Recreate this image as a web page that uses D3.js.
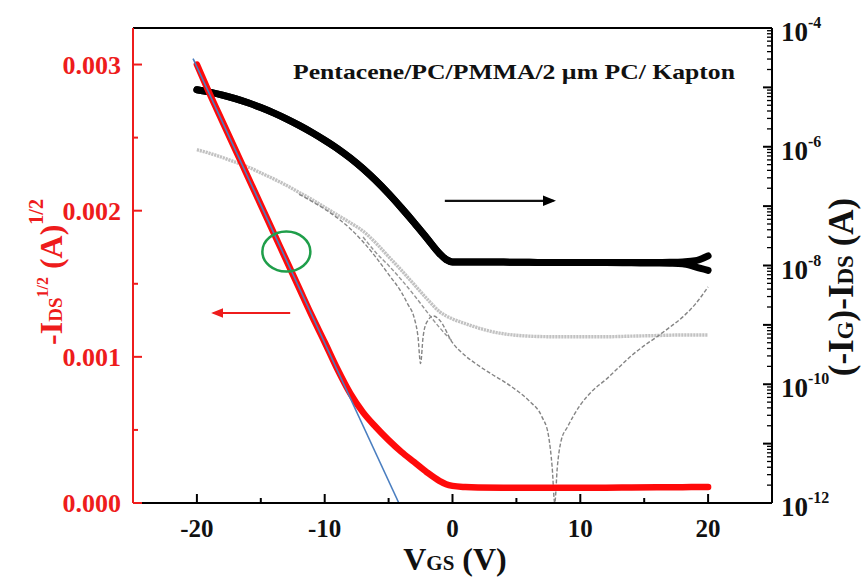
<!DOCTYPE html>
<html><head><meta charset="utf-8">
<script src="https://cdn.jsdelivr.net/npm/d3@7"></script>
<style>body{margin:0;background:#fff}svg{display:block}text{font-family:"Liberation Serif","Times New Roman",serif;font-weight:bold}</style>
</head><body><svg id="c" width="865" height="579"></svg>
<script>
// ---- data ----
const xTicksMajor = [-20, -10, 0, 10, 20];
const xTicksMinor = [-15, -5, 5, 15];
const leftTicks = [0, 0.001, 0.002, 0.003];
const leftTickLabels = ["0.000", "0.001", "0.002", "0.003"];
const leftMinor = [0.0005, 0.0015, 0.0025];
const rightTickExps = [-4, -6, -8, -10, -12];

// sqrt(-I_DS) (A^1/2) vs V_GS
const redV = [-20,-19,-18,-17,-16,-15,-14,-13,-12,-11,-10,-9,-8,-7,-6,-5,-4,-3,-2,-1,-0.5,0,1,2,4,6,8,10,12,14,16,18,19,20];
const redI = [0.00300,0.00280,0.00261,0.00242,0.00223,0.00204,0.00185,0.00166,0.00147,0.00128,0.00110,0.000915,0.00075,0.00062,0.00052,0.00043,0.00035,0.00028,0.00021,0.00015,0.000128,0.000117,0.000109,0.000106,0.000105,0.000105,0.000105,0.000105,0.000105,0.000106,0.000107,0.000108,0.000109,0.00011];

// linear fit line
const fitV = [-20.3, -4.2];
const fitI = [0.00304, 0];

// -I_DS (log) : two sweeps
const blackV = [-20,-19,-18,-17,-16,-15,-14,-13,-12,-11,-10,-9,-8,-7,-6,-5,-4,-3,-2,-1,-0.5,0,2,4,6,8,10,12,14,16,17,18,19,20];
const blackUp = [9.12e-6,8.32e-6,7.41e-6,6.46e-6,5.50e-6,4.57e-6,3.72e-6,2.95e-6,2.29e-6,1.74e-6,1.29e-6,9.33e-7,6.46e-7,4.27e-7,2.69e-7,1.62e-7,9.33e-8,5.25e-8,2.88e-8,1.58e-8,1.26e-8,1.15e-8,1.15e-8,1.14e-8,1.13e-8,1.12e-8,1.12e-8,1.12e-8,1.12e-8,1.12e-8,1.13e-8,1.15e-8,1.20e-8,1.45e-8];
const blackDn = [9.12e-6,8.32e-6,7.41e-6,6.46e-6,5.50e-6,4.57e-6,3.72e-6,2.95e-6,2.29e-6,1.74e-6,1.29e-6,9.33e-7,6.46e-7,4.27e-7,2.69e-7,1.62e-7,9.33e-8,5.25e-8,2.88e-8,1.58e-8,1.26e-8,1.15e-8,1.15e-8,1.14e-8,1.13e-8,1.12e-8,1.12e-8,1.12e-8,1.11e-8,1.10e-8,1.09e-8,1.07e-8,9.5e-9,8.3e-9];

// dotted grey curve
const grayV = [-20,-19,-18,-17,-16,-15,-14,-13,-12,-11,-10,-9,-8,-7,-6,-5,-4,-3,-2,-1,0,1,2,3,4,6,8,10,12,14,16,18,20];
const grayI = [8.91e-7,7.76e-7,6.61e-7,5.50e-7,4.57e-7,3.63e-7,2.88e-7,2.24e-7,1.70e-7,1.29e-7,9.55e-8,7.08e-8,5.25e-8,3.80e-8,2.40e-8,1.41e-8,8.32e-9,4.79e-9,2.75e-9,1.66e-9,1.26e-9,1.05e-9,8.91e-10,7.76e-10,7.08e-10,6.46e-10,6.31e-10,6.31e-10,6.31e-10,6.46e-10,6.61e-10,6.76e-10,6.76e-10];

// gate current (dashed)
const gateAV = [-12,-11,-10,-9,-8,-7,-6,-5,-4,-3.5,-3,-2.7,-2.5,-2.3,-2,-1.5,-1,0,1,2,3,4,5,6,7,7.5,7.8,8,8.2,8.5,9,10,11,12,13,14,15,16,17,18,19,20];
const gateAI = [1.58e-7,1.20e-7,8.91e-8,6.31e-8,4.17e-8,2.51e-8,1.38e-8,7.08e-9,3.55e-9,2.24e-9,1.32e-9,6.31e-10,2.24e-10,6.31e-10,1.12e-9,1.41e-9,1.20e-9,5.01e-10,3.02e-10,2.09e-10,1.51e-10,1.12e-10,7.94e-11,5.25e-11,2.82e-11,1.41e-11,3.98e-12,1.0e-12,3.98e-12,1.12e-11,1.91e-11,4.47e-11,7.94e-11,1.20e-10,1.91e-10,3.02e-10,4.47e-10,6.31e-10,9.12e-10,1.35e-9,2.24e-9,4.37e-9];
const gateBV = [-7,-6,-5,-4,-3,-2,-1,0];
const gateBI = [3.02e-8,1.66e-8,1.0e-8,5.75e-9,3.16e-9,1.66e-9,8.91e-10,5.25e-10];

// annotations (data units)
const blackArrowV = [-0.6, 7.9], blackArrowI = 1.23e-7;
const redArrowV = [-12.7, -18.7], redArrowI = 0.0013;
const circleV = -13.0, circleI = 0.00172;

const title = "Pentacene/PC/PMMA/2 µm PC/ Kapton";

// ---- layout ----
const L = 133, R = 772, T = 28, B = 503;
const svg = d3.select("#c");
const x = d3.scaleLinear().domain([-25, 25]).range([L, R]);
const yL = d3.scaleLinear().domain([0, 0.00325]).range([B, T]);
const yR = d3.scaleLog().domain([1e-12, 1e-4]).range([B, T]);
const RED = "#ee1c1c";

// curves
const plot = svg.append("g");
const line = (ys, xs, yy) => d3.line().x((d, i) => x(xs[i])).y((d, i) => yy(ys[i])).curve(d3.curveMonotoneX)(ys);

plot.append("path").attr("d", line(grayI, grayV, yR)).attr("fill", "none")
  .attr("stroke", "#c2c2c2").attr("stroke-width", 3.4).attr("stroke-dasharray", "2.2,0.8");
plot.append("path").attr("d", line(gateAI, gateAV, yR)).attr("fill", "none")
  .attr("stroke", "#858585").attr("stroke-width", 1.4).attr("stroke-dasharray", "4,2");
plot.append("path").attr("d", line(gateBI, gateBV, yR)).attr("fill", "none")
  .attr("stroke", "#959595").attr("stroke-width", 1.4).attr("stroke-dasharray", "4,2");
plot.append("path").attr("d", line(blackDn, blackV, yR)).attr("fill", "none")
  .attr("stroke", "#000").attr("stroke-width", 7).attr("stroke-linecap", "round");
plot.append("path").attr("d", line(blackUp, blackV, yR)).attr("fill", "none")
  .attr("stroke", "#000").attr("stroke-width", 7).attr("stroke-linecap", "round");
plot.append("path").attr("d", line(redI, redV, yL)).attr("fill", "none")
  .attr("stroke", "#ff0a0a").attr("stroke-width", 6.5).attr("stroke-linecap", "round");
plot.append("path").attr("d", d3.line().x((d,i)=>x(fitV[i])).y(d=>yL(d))(fitI)).attr("fill", "none")
  .attr("stroke", "#4a7ec0").attr("stroke-width", 1.6);

// annotations
const defs = svg.append("defs");
function marker(id, color) {
  defs.append("marker").attr("id", id).attr("viewBox", "0 0 10 10").attr("refX", 8).attr("refY", 5)
    .attr("markerWidth", 6).attr("markerHeight", 6).attr("orient", "auto")
    .append("path").attr("d", "M0,1 L10,5 L0,9 Z").attr("fill", color);
}
marker("ab", "#000"); marker("ar", RED);
svg.append("line").attr("x1", x(blackArrowV[0])).attr("x2", x(blackArrowV[1]))
  .attr("y1", yR(blackArrowI)).attr("y2", yR(blackArrowI)).attr("stroke", "#111").attr("stroke-width", 2.2)
  .attr("marker-end", "url(#ab)");
svg.append("line").attr("x1", x(redArrowV[0])).attr("x2", x(redArrowV[1]))
  .attr("y1", yL(redArrowI)).attr("y2", yL(redArrowI)).attr("stroke", RED).attr("stroke-width", 2)
  .attr("marker-end", "url(#ar)");
svg.append("ellipse").attr("cx", x(circleV)).attr("cy", yL(circleI)).attr("rx", 24).attr("ry", 20)
  .attr("fill", "none").attr("stroke", "#1f9e4a").attr("stroke-width", 2.5);

// frame
svg.append("line").attr("x1", L).attr("x2", R).attr("y1", T).attr("y2", T).attr("stroke", "#000").attr("stroke-width", 2);
svg.append("line").attr("x1", L).attr("x2", R).attr("y1", B).attr("y2", B).attr("stroke", "#000").attr("stroke-width", 2);
svg.append("line").attr("x1", R).attr("x2", R).attr("y1", T).attr("y2", B).attr("stroke", "#000").attr("stroke-width", 2);
svg.append("line").attr("x1", L).attr("x2", L).attr("y1", T).attr("y2", B).attr("stroke", RED).attr("stroke-width", 2);
svg.append("line").attr("x1", L).attr("x2", L + 9).attr("y1", B).attr("y2", B).attr("stroke", RED).attr("stroke-width", 2);

// bottom axis
const gx = svg.append("g");
xTicksMajor.forEach(v => gx.append("line").attr("x1", x(v)).attr("x2", x(v)).attr("y1", B).attr("y2", B - 9).attr("stroke", "#000").attr("stroke-width", 2));
xTicksMinor.forEach(v => gx.append("line").attr("x1", x(v)).attr("x2", x(v)).attr("y1", B).attr("y2", B - 5).attr("stroke", "#000").attr("stroke-width", 2));
xTicksMajor.forEach(v => gx.append("text").attr("x", x(v)).attr("y", 537).attr("text-anchor", "middle")
  .attr("font-size", 25).attr("fill", "#111").text(v));
const xl = svg.append("text").attr("x", 455).attr("y", 570).attr("text-anchor", "middle").attr("fill", "#111");
xl.append("tspan").attr("font-size", 32).text("V");
xl.append("tspan").attr("font-size", 21).text("GS");
xl.append("tspan").attr("font-size", 32).text(" (V)");

// left axis
const gl = svg.append("g");
leftTicks.forEach((v, i) => {
  gl.append("line").attr("x1", L).attr("x2", L + 9).attr("y1", yL(v)).attr("y2", yL(v)).attr("stroke", RED).attr("stroke-width", 2);
  gl.append("text").attr("x", 121).attr("y", yL(v) + 9).attr("text-anchor", "end").attr("font-size", 26).attr("fill", RED).text(leftTickLabels[i]);
});
leftMinor.forEach(v => gl.append("line").attr("x1", L).attr("x2", L + 5).attr("y1", yL(v)).attr("y2", yL(v)).attr("stroke", RED).attr("stroke-width", 2));
const ll = svg.append("text").attr("transform", "translate(62,272) rotate(-90)").attr("text-anchor", "middle").attr("fill", RED);
ll.append("tspan").attr("font-size", 32).text("-I");
ll.append("tspan").attr("font-size", 19).text("DS");
ll.append("tspan").attr("font-size", 16).attr("dy", -14).text("1/2");
ll.append("tspan").attr("font-size", 32).attr("dy", 14).text(" (A)");
ll.append("tspan").attr("font-size", 20).attr("dy", -19).text("1/2");

// right axis (log)
const gr = svg.append("g");
for (let e = -12; e < -4; e++) {
  for (let m = 1; m < 10; m++) {
    const v = m * Math.pow(10, e);
    gr.append("line").attr("x1", R).attr("x2", R - (m === 1 ? 9 : 5)).attr("y1", yR(v)).attr("y2", yR(v))
      .attr("stroke", "#000").attr("stroke-width", m === 1 ? 2 : 1.3);
  }
}
gr.append("line").attr("x1", R).attr("x2", R - 9).attr("y1", yR(1e-4)).attr("y2", yR(1e-4)).attr("stroke", "#000").attr("stroke-width", 2);
rightTickExps.forEach(e => {
  const t = gr.append("text").attr("x", 781).attr("y", yR(Math.pow(10, e)) + 13).attr("fill", "#111");
  t.append("tspan").attr("font-size", 27).text("10");
  t.append("tspan").attr("font-size", 16).attr("dy", -13).text(String(e));
});
const rl = svg.append("text").attr("transform", "translate(853,287) rotate(-90)").attr("text-anchor", "middle").attr("fill", "#111");
rl.append("tspan").attr("font-size", 35).text("(-I");
rl.append("tspan").attr("font-size", 23).text("G");
rl.append("tspan").attr("font-size", 35).text(")-I");
rl.append("tspan").attr("font-size", 23).text("DS");
rl.append("tspan").attr("font-size", 35).text(" (A)");

// title
svg.append("text").attr("x", 293).attr("y", 79).attr("font-size", 21).attr("fill", "#111")
  .attr("textLength", 442).attr("lengthAdjust", "spacingAndGlyphs").text(title);
</script></body></html>
